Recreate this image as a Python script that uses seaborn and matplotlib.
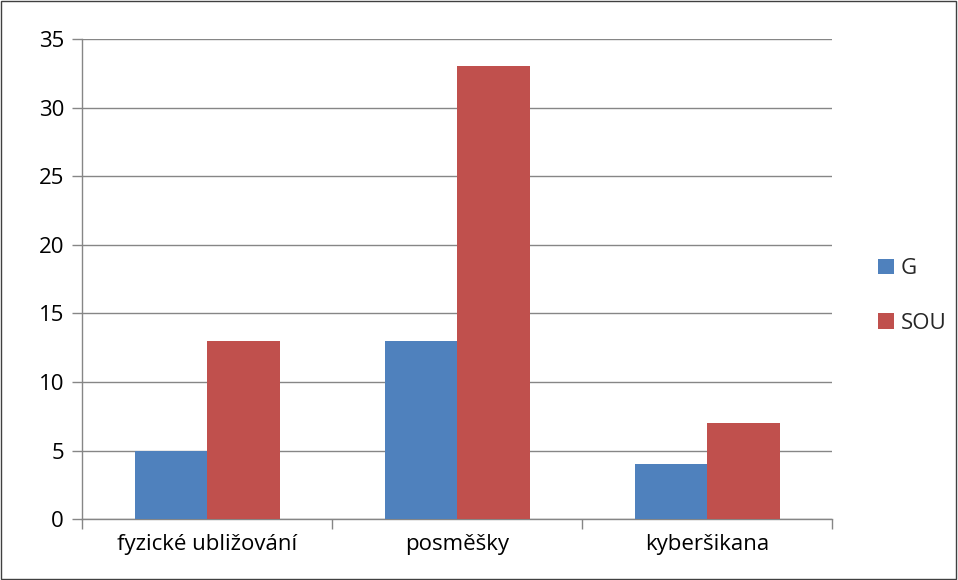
import pandas as pd
import matplotlib.pyplot as plt
import seaborn as sns
from matplotlib.patches import Rectangle

categories = ['fyzické ubližování', 'posměšky', 'kyberšikana']
series = ['G', 'SOU']
g_values = [5, 13, 4]
sou_values = [13, 33, 7]
y_ticks = [0, 5, 10, 15, 20, 25, 30, 35]

data = pd.DataFrame({
    'kategorie': categories * 2,
    'skupina': ['G'] * 3 + ['SOU'] * 3,
    'pocet': g_values + sou_values,
})

sns.set_theme(style='white')
plt.rcParams['font.family'] = ['Open Sans', 'DejaVu Sans']

fig = plt.figure(figsize=(9.58, 5.8), dpi=100)
ax = fig.add_axes([0.0856, 0.105, 0.7829, 0.8278])

palette = {'G': '#4F81BD', 'SOU': '#C0504D'}
sns.barplot(data=data, x='kategorie', y='pocet', hue='skupina', hue_order=series,
            palette=palette, width=0.58, gap=0, saturation=1, linewidth=0,
            edgecolor='none', ax=ax, zorder=3)

ax.set_ylim(0, 35)
ax.set_xlim(-0.5, 2.5)
ax.set_yticks(y_ticks)
ax.yaxis.grid(True, color='#868686', linewidth=1, zorder=0)
ax.set_axisbelow(True)
ax.set_xlabel('')
ax.set_ylabel('')

for s in ['top', 'right']:
    ax.spines[s].set_visible(False)
for s in ['left', 'bottom']:
    ax.spines[s].set_color('#868686')
    ax.spines[s].set_linewidth(1)

ax.tick_params(axis='y', which='major', length=7, color='#868686', width=1,
               labelsize=16, labelcolor='black', pad=6, left=True)
ax.set_xticks([-0.5, 0.5, 1.5, 2.5], minor=True)
ax.tick_params(axis='x', which='minor', length=7, color='#868686', width=1, bottom=True)
ax.tick_params(axis='x', which='major', length=0, labelsize=16, labelcolor='black', pad=11)

leg = ax.legend(loc='center left', bbox_to_anchor=(1.035, 0.465), frameon=False,
                fontsize=16, handlelength=0.7, handleheight=0.7, handletextpad=0.3,
                labelspacing=1.5)

fig.patches.append(Rectangle((0.001, 0.001), 0.997, 0.997, transform=fig.transFigure,
                             fill=False, edgecolor='#404040', linewidth=1))

fig.savefig('out.png', dpi=100)
